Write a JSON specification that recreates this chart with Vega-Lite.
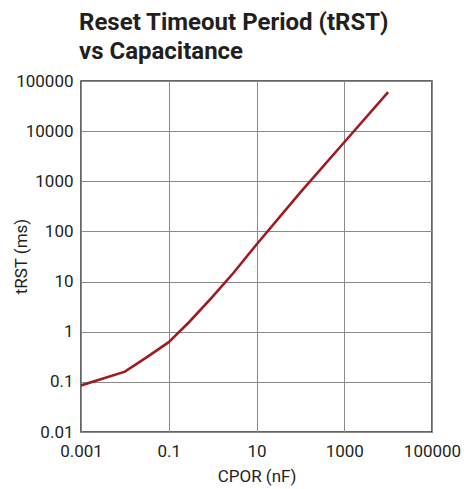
{
  "$schema": "https://vega.github.io/schema/vega-lite/v6.json",
  "width": 351,
  "height": 351,
  "autosize": "none",
  "padding": {"left": 81, "top": 81, "right": 32, "bottom": 57},
  "background": "white",
  "title": {
    "text": ["Reset Timeout Period (tRST)", "vs Capacitance"],
    "anchor": "start",
    "frame": "group",
    "font": "Roboto, sans-serif",
    "fontSize": 24,
    "fontWeight": "bold",
    "lineHeight": 29,
    "color": "#231f20",
    "offset": 8,
    "dx": -2
  },
  "config": {
    "view": {"stroke": "#333333", "strokeWidth": 1.5},
    "font": "Roboto, sans-serif"
  },
  "data": {
    "values": [
      {"c": 0.001, "t": 0.085},
      {"c": 0.01, "t": 0.16},
      {"c": 0.03, "t": 0.3},
      {"c": 0.1, "t": 0.62},
      {"c": 0.3, "t": 1.6},
      {"c": 1, "t": 5},
      {"c": 3, "t": 15},
      {"c": 10, "t": 55},
      {"c": 100, "t": 600},
      {"c": 1000, "t": 6000},
      {"c": 10000, "t": 60000}
    ]
  },
  "mark": {"type": "line", "color": "#9e1b20", "strokeWidth": 2.6, "clip": true},
  "encoding": {
    "x": {
      "field": "c",
      "type": "quantitative",
      "scale": {"type": "log", "domain": [0.001, 100000], "nice": false},
      "axis": {
        "values": [0.001, 0.1, 10, 1000, 100000],
        "format": "~g",
        "title": "CPOR (nF)",
        "titleFont": "Roboto, sans-serif",
        "titleFontSize": 17,
        "titleFontWeight": "normal",
        "titleColor": "#231f20",
        "titlePadding": 9,
        "labelFont": "Roboto, sans-serif",
        "labelFontSize": 17,
        "labelColor": "#231f20",
        "labelPadding": 11,
        "labelFlush": false,
        "labelOverlap": false,
        "ticks": false,
        "domain": false,
        "grid": true,
        "gridColor": "#8a8a8a",
        "gridWidth": 1,
        "gridOpacity": 1
      }
    },
    "y": {
      "field": "t",
      "type": "quantitative",
      "scale": {"type": "log", "domain": [0.01, 100000], "nice": false},
      "axis": {
        "values": [0.01, 0.1, 1, 10, 100, 1000, 10000, 100000],
        "format": "~g",
        "title": "tRST (ms)",
        "titleFont": "Roboto, sans-serif",
        "titleFontSize": 17,
        "titleFontWeight": "normal",
        "titleColor": "#231f20",
        "titleX": -55,
        "titleY": 175,
        "titleAngle": -90,
        "titleAlign": "center",
        "titleBaseline": "alphabetic",
        "labelFont": "Roboto, sans-serif",
        "labelFontSize": 17,
        "labelColor": "#231f20",
        "labelPadding": 8,
        "labelFlush": false,
        "labelOverlap": false,
        "ticks": false,
        "domain": false,
        "grid": true,
        "gridColor": "#8a8a8a",
        "gridWidth": 1,
        "gridOpacity": 1
      }
    }
  }
}
